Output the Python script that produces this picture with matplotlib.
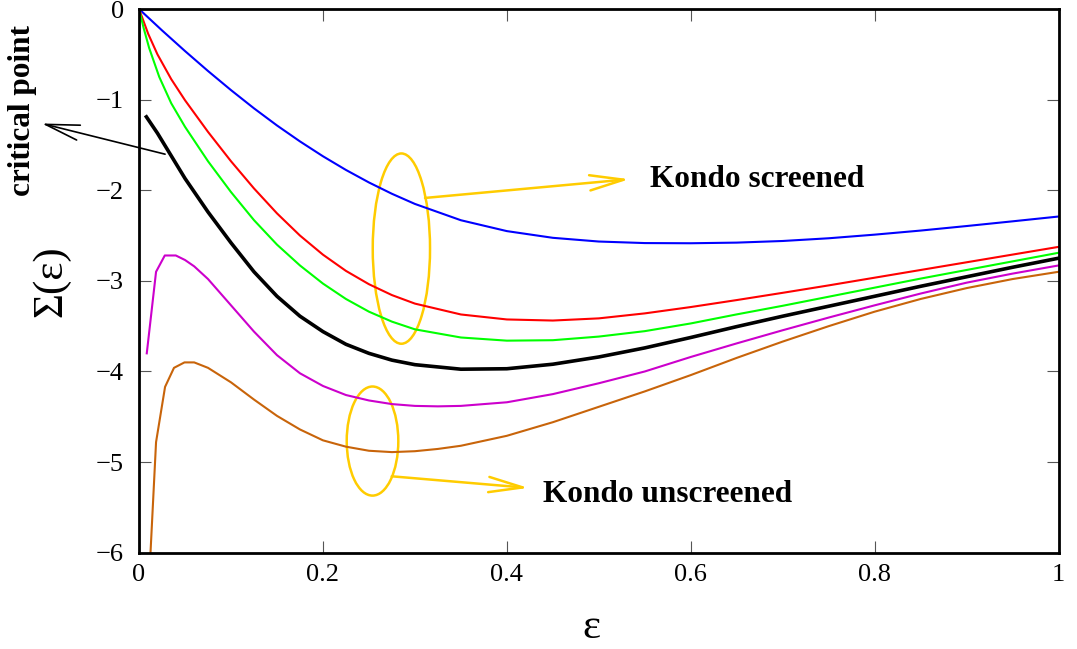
import matplotlib
matplotlib.use("Agg")
import matplotlib.pyplot as plt
from matplotlib.patches import Ellipse, ArrowStyle

plt.rcParams['font.family'] = ['Liberation Serif', 'DejaVu Serif']

# self-energy curves Sigma(eps)
blue_x = [0, 0.025, 0.05, 0.075, 0.1, 0.125, 0.15, 0.175, 0.2, 0.225, 0.25, 0.275, 0.3,
          0.35, 0.4, 0.45, 0.5, 0.55, 0.6, 0.65, 0.7, 0.75, 0.8, 0.85, 0.9, 0.95, 1.0]
blue_y = [0, -0.236, -0.464, -0.684, -0.895, -1.096, -1.285, -1.461, -1.625, -1.776, -1.914,
          -2.039, -2.151, -2.331, -2.451, -2.525, -2.566, -2.583, -2.585, -2.578, -2.560, -2.530,
          -2.490, -2.445, -2.395, -2.343, -2.29]

red_x = [0, 0.01, 0.02, 0.035, 0.05, 0.075, 0.1, 0.125, 0.15, 0.175, 0.2, 0.225, 0.25, 0.275,
         0.3, 0.35, 0.4, 0.45, 0.5, 0.55, 0.6, 0.65, 0.7, 0.75, 0.8, 0.85, 0.9, 0.95, 1.0]
red_y = [0, -0.275, -0.50, -0.774, -1.007, -1.356, -1.68, -1.98, -2.255, -2.50, -2.711, -2.89,
         -3.037, -3.157, -3.251, -3.371, -3.426, -3.438, -3.414, -3.359, -3.289, -3.212, -3.132,
         -3.05, -2.965, -2.88, -2.795, -2.71, -2.625]

green_x = [0, 0.005, 0.011, 0.022, 0.035, 0.05, 0.075, 0.1, 0.125, 0.15, 0.175, 0.2, 0.225,
           0.25, 0.275, 0.3, 0.35, 0.4, 0.45, 0.5, 0.55, 0.6, 0.65, 0.7, 0.75, 0.8, 0.85, 0.9,
           0.95, 1.0]
green_y = [0, -0.21, -0.43, -0.75, -1.04, -1.30, -1.68, -2.02, -2.33, -2.60, -2.83, -3.03, -3.20,
           -3.34, -3.45, -3.535, -3.625, -3.66, -3.655, -3.615, -3.555, -3.47, -3.37, -3.275,
           -3.175, -3.075, -2.975, -2.88, -2.785, -2.69]

# critical point
black_x = [0.008, 0.02, 0.035, 0.05, 0.075, 0.1, 0.125, 0.15, 0.175, 0.2, 0.225, 0.25, 0.275,
           0.3, 0.35, 0.4, 0.45, 0.5, 0.55, 0.6, 0.65, 0.7, 0.75, 0.8, 0.85, 0.9, 0.95, 1.0]
black_y = [-1.19, -1.37, -1.62, -1.87, -2.24, -2.58, -2.90, -3.17, -3.39, -3.56, -3.70, -3.80,
           -3.875, -3.925, -3.975, -3.97, -3.92, -3.84, -3.74, -3.625, -3.505, -3.39, -3.28,
           -3.17, -3.06, -2.955, -2.85, -2.75]

magenta_x = [0.0084, 0.0185, 0.028, 0.040, 0.05, 0.06, 0.075, 0.1, 0.125, 0.15, 0.175, 0.2,
             0.225, 0.25, 0.275, 0.3, 0.325, 0.35, 0.4, 0.45, 0.5, 0.55, 0.6, 0.65, 0.7, 0.75,
             0.8, 0.85, 0.9, 0.95, 1.0]
magenta_y = [-3.80, -2.90, -2.72, -2.72, -2.77, -2.84, -2.98, -3.27, -3.56, -3.82, -4.02, -4.16,
             -4.26, -4.32, -4.36, -4.38, -4.385, -4.38, -4.34, -4.25, -4.13, -4.00, -3.84, -3.69,
             -3.545, -3.405, -3.27, -3.14, -3.02, -2.92, -2.83]

brown_x = [0.0085, 0.0185, 0.0283, 0.038, 0.0494, 0.06, 0.075, 0.1, 0.125, 0.15, 0.175, 0.2,
           0.225, 0.25, 0.275, 0.3, 0.325, 0.35, 0.4, 0.45, 0.5, 0.55, 0.6, 0.65, 0.7, 0.75,
           0.8, 0.85, 0.9, 0.95, 1.0]
brown_y = [-6.8, -4.78, -4.17, -3.96, -3.90, -3.90, -3.96, -4.12, -4.31, -4.49, -4.64, -4.76,
           -4.83, -4.875, -4.89, -4.88, -4.855, -4.82, -4.71, -4.56, -4.39, -4.22, -4.04, -3.85,
           -3.67, -3.50, -3.34, -3.20, -3.08, -2.98, -2.90]

x_ticks = [0, 0.2, 0.4, 0.6, 0.8, 1]
x_ticklabels = ['0', '0.2', '0.4', '0.6', '0.8', '1']
y_ticks = [-6, -5, -4, -3, -2, -1, 0]

gold = '#ffcc00'

fig = plt.figure(figsize=(10.77, 6.49), dpi=100)
ax = fig.add_axes([0.1291, 0.1484, 0.8538, 0.8377])

ax.plot(blue_x, blue_y, color='#0000ff', lw=1.5)
ax.plot(red_x, red_y, color='#ff0000', lw=1.5)
ax.plot(green_x, green_y, color='#00ff00', lw=1.5)
ax.plot(black_x, black_y, color='black', lw=2.6)
ax.plot(magenta_x, magenta_y, color='#cc00cc', lw=1.5)
ax.plot(brown_x, brown_y, color='#c8640a', lw=1.5)

ax.set_xlim(0, 1)
ax.set_ylim(-6, 0)
ax.set_xticks(x_ticks)
ax.set_xticklabels(x_ticklabels)
ax.set_yticks(y_ticks)
ax.tick_params(direction='in', length=8.5, width=0.8, color='#555555',
               top=True, right=True, labelsize=19)
ax.tick_params(axis='y', pad=11)
ax.tick_params(axis='x', pad=8)
for sp in ax.spines.values():
    sp.set_linewidth(2)

ax.set_xlabel('ε', fontsize=31)
ax.xaxis.set_label_coords(0.4916, -0.102)
ax.set_ylabel('Σ(ε)', fontsize=31)
ax.yaxis.set_label_coords(-0.075, 0.5)

# grouping ellipses and their pointers
ax.add_patch(Ellipse((0.2853, -2.644), 0.0623, 2.10, fill=False, ec=gold, lw=1.8))
ax.add_patch(Ellipse((0.2539, -4.768), 0.0561, 1.204, fill=False, ec=gold, lw=1.8))

head = ArrowStyle('->', head_length=2.45, head_width=0.55)
ax.annotate('', xy=(0.5332, -1.878), xytext=(0.3110, -2.085),
            arrowprops=dict(arrowstyle=head, color=gold, lw=1.8, mutation_scale=10,
                            shrinkA=0, shrinkB=0))
ax.annotate('', xy=(0.4234, -5.285), xytext=(0.2748, -5.157),
            arrowprops=dict(arrowstyle=head, color=gold, lw=1.8, mutation_scale=10,
                            shrinkA=0, shrinkB=0))
ax.annotate('', xy=(-0.1058, -1.263), xytext=(0.0283, -1.602), annotation_clip=False,
            arrowprops=dict(arrowstyle=head, color='black', lw=1.2, mutation_scale=10,
                            shrinkA=0, shrinkB=0))

ax.text(0.5557, -1.963, 'Kondo screened', fontsize=22.5, fontweight='bold', va='baseline')
ax.text(0.4394, -5.44, 'Kondo unscreened', fontsize=22.5, fontweight='bold', va='baseline')
fig.text(22.5 / 1077, 1 - 111 / 649, 'critical point', fontsize=22.5, fontweight='bold',
         rotation=90, ha='center', va='center')

fig.savefig('out.png', dpi=100)
